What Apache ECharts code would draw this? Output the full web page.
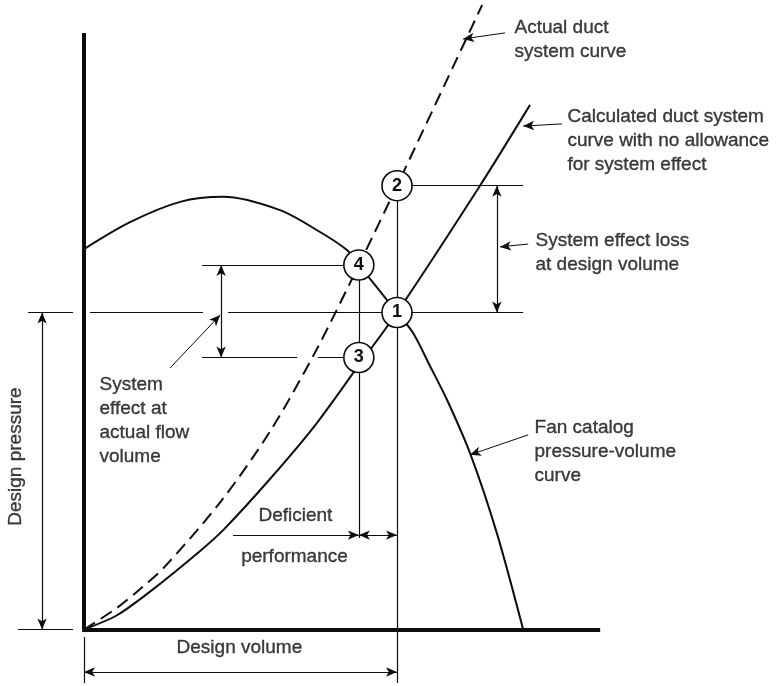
<!DOCTYPE html>
<html>
<head>
<meta charset="utf-8">
<script src="https://cdn.jsdelivr.net/npm/echarts@6/dist/echarts.min.js"></script>
<style>
  html, body { margin: 0; padding: 0; background: #fff; }
  #chart { width: 780px; height: 686px; }
</style>
</head>
<body>
<div id="chart"></div>
<script>
// ---- Data (units: design volume = 1, design pressure = 1) ----
const fanX = [0, 0.147, 0.307, 0.444, 0.626, 0.754, 0.840, 0.878, 1.0, 1.051, 1.105, 1.160, 1.233, 1.319, 1.403];
const fanY = [1.20, 1.285, 1.349, 1.365, 1.323, 1.254, 1.197, 1.15, 1.0, 0.936, 0.832, 0.724, 0.557, 0.304, 0];

const calcX = [0, 0.105, 0.214, 0.371, 0.447, 0.597, 0.735, 0.878, 1.0, 1.265, 1.425];
const calcY = [0, 0.045, 0.122, 0.248, 0.316, 0.478, 0.640, 0.834, 1.0, 1.40, 1.655];

const actualX = [0, 0.105, 0.182, 0.256, 0.438, 0.597, 0.744, 0.878, 1.0, 1.272];
const actualY = [0, 0.068, 0.130, 0.196, 0.405, 0.629, 0.885, 1.15, 1.40, 1.97];

const pointLabels = ['1', '2', '3', '4'];
const pointX = [1.0, 1.0, 0.878, 0.878];
const pointY = [1.0, 1.40, 0.858, 1.15];

const axisTopY = 1.882;
const axisRightX = 1.649;

// ---- Build chart ----
const pairs = (xs, ys) => xs.map((x, i) => [x, ys[i]]);
const FONT = '"Liberation Sans", Arial, Helvetica, sans-serif';
const INK = '#0d0d0d';

const seg = (a, b, s0, s1, width) => [
  { coord: a, symbol: s0 || 'none', lineStyle: { width: width || 1.2, color: INK, type: 'solid' } },
  { coord: b, symbol: s1 || 'none', lineStyle: { width: width || 1.2, color: INK, type: 'solid' } }
];

const p1 = [pointX[0], pointY[0]], p2 = [pointX[1], pointY[1]], p3 = [pointX[2], pointY[2]], p4 = [pointX[3], pointY[3]];
const defY = 0.298;

const guideLines = [
  // axes
  seg([0, 0], [0, axisTopY], 'none', 'none', 4),
  seg([-0.006, 0], [axisRightX, 0], 'none', 'none', 4),
  // design pressure level
  seg([-0.179, p1[1]], [-0.035, p1[1]]),
  seg([0.019, p1[1]], [0.380, p1[1]]),
  seg([0.460, p1[1]], [1.403, p1[1]]),
  // point 2 level
  seg(p2, [1.403, p2[1]]),
  // point 4 and 3 levels
  seg([0.377, p4[1]], p4),
  seg([0.377, p3[1]], [0.681, p3[1]]),
  seg([0.748, p3[1]], p3),
  // verticals
  seg(p2, [p1[0], -0.169]),
  seg(p4, [p4[0], 0.289]),
  seg([0, -0.024], [0, -0.169]),
  seg([-0.211, 0], [-0.035, 0]),
  // dimension arrows
  seg([-0.134, 1.0], [-0.134, 0], 'arrow', 'arrow'),
  seg([0, -0.134], [1.0, -0.134], 'arrow', 'arrow'),
  seg([1.319, p1[1]], [1.319, p2[1]], 'arrow', 'arrow'),
  seg([0.438, p3[1]], [0.438, p4[1]], 'arrow', 'arrow'),
  seg([0.476, defY], [p4[0], defY], 'none', 'arrow'),
  seg([p4[0], defY], [p1[0], defY], 'arrow', 'arrow'),
  // leaders
  seg([1.345, 1.882], [1.211, 1.863], 'none', 'arrow', 1),
  seg([1.527, 1.595], [1.403, 1.588], 'none', 'arrow', 1),
  seg([1.419, 1.216], [1.329, 1.207], 'none', 'arrow', 1),
  seg([1.419, 0.614], [1.233, 0.551], 'none', 'arrow', 1),
  seg([0.275, 0.825], [0.435, 0.992], 'none', 'arrow', 1)
];

const textStyle = { fontFamily: FONT, fontSize: 19, color: INK, lineHeight: 24, textBorderColor: INK, textBorderWidth: 0.35 };
const texts = [
  { name: 'Actual duct\nsystem curve', value: [1.377, 1.935], align: 'left', va: 'top' },
  { name: 'Calculated duct system\ncurve with no allowance\nfor system effect', value: [1.546, 1.655], align: 'left', va: 'top' },
  { name: 'System effect loss\nat design volume', value: [1.444, 1.263], align: 'left', va: 'top' },
  { name: 'System\neffect at\nactual flow\nvolume', value: [0.051, 0.809], align: 'left', va: 'top' },
  { name: 'Fan catalog\npressure-volume\ncurve', value: [1.441, 0.673], align: 'left', va: 'top' },
  { name: 'Deficient', value: [0.677, 0.358], align: 'center', va: 'middle' },
  { name: 'performance', value: [0.674, 0.229], align: 'center', va: 'middle' },
  { name: 'Design volume', value: [0.498, -0.058], align: 'center', va: 'middle' },
  { name: 'Design pressure', value: [-0.217, 0.544], align: 'center', va: 'middle', rotate: 90 }
];

const chart = echarts.init(document.getElementById('chart'), null, { renderer: 'canvas' });
chart.setOption({
  animation: false,
  backgroundColor: '#ffffff',
  grid: { left: 0, right: 0, top: 0, bottom: 0, containLabel: false },
  xAxis: { type: 'value', min: -0.2684, max: 2.2236, show: false },
  yAxis: { type: 'value', min: -0.1782, max: 1.9858, show: false },
  series: [
    {
      type: 'line', name: 'guides', data: [[0, 0]], symbol: 'none', silent: true,
      lineStyle: { opacity: 0 }, z: 2,
      markLine: {
        silent: true, animation: false, symbolSize: [7, 11],
        label: { show: false }, emphasis: { disabled: true },
        data: guideLines
      }
    },
    {
      type: 'line', name: 'Fan catalog pressure-volume curve', data: pairs(fanX, fanY),
      smooth: 0.3, symbol: 'none', silent: true, z: 3,
      lineStyle: { color: INK, width: 2 }
    },
    {
      type: 'line', name: 'Calculated duct system curve', data: pairs(calcX, calcY),
      smooth: 0.3, symbol: 'none', silent: true, z: 3,
      lineStyle: { color: INK, width: 2 }
    },
    {
      type: 'line', name: 'Actual duct system curve', data: pairs(actualX, actualY),
      smooth: 0.3, symbol: 'none', silent: true, z: 3,
      lineStyle: { color: INK, width: 2, type: [13, 7] }
    },
    {
      type: 'scatter', name: 'points', z: 10, silent: true,
      data: pointLabels.map((l, i) => ({ name: l, value: [pointX[i], pointY[i]] })),
      symbol: 'circle', symbolSize: 30,
      itemStyle: { color: '#ffffff', borderColor: INK, borderWidth: 1.6, opacity: 1 },
      label: { show: true, position: 'inside', formatter: '{b}', fontFamily: FONT, fontSize: 18, fontWeight: 'bold', color: INK }
    },
    {
      type: 'scatter', name: 'texts', z: 11, silent: true,
      symbolSize: 1, itemStyle: { color: 'rgba(0,0,0,0)' },
      data: texts.map(t => ({
        name: t.name, value: t.value,
        label: Object.assign({ show: true, position: [0, 0], formatter: '{b}', align: t.align, verticalAlign: t.va, rotate: t.rotate || 0 }, textStyle)
      }))
    }
  ]
});
</script>
</body>
</html>
